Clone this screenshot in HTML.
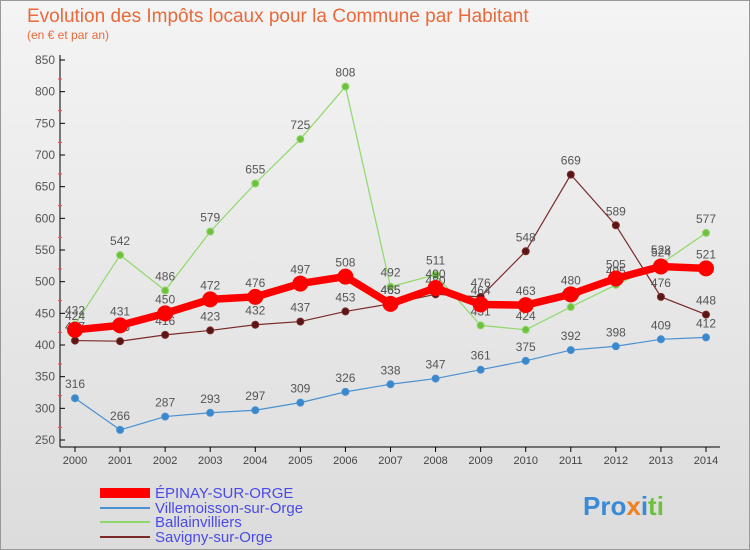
<!DOCTYPE html>
<html><head><meta charset="utf-8"><style>
body{margin:0;width:750px;height:550px;overflow:hidden;font-family:"Liberation Sans",sans-serif}
#root{position:relative;width:748px;height:548px;border:1px solid #999;background:linear-gradient(#f4f4f4,#dcdcdc);}
</style></head><body>
<div id="root">
<svg id="chart" width="750" height="550" style="position:absolute;left:-1px;top:-1px">
<text x="27" y="22" font-size="19" fill="#e8693a">Evolution des Impôts locaux pour la Commune par Habitant</text>
<text x="27" y="39" font-size="12" fill="#e8693a">(en € et par an)</text>
<g id="axes"></g><g id="series"></g>
<g>
<rect x="100" y="488" width="50" height="10" fill="#f00"/>
<text x="155" y="498" font-size="15" fill="#4a4ae8">ÉPINAY-SUR-ORGE</text>
<line x1="100" y1="508" x2="150" y2="508" stroke="#4a90d0" stroke-width="2"/>
<text x="155" y="513" font-size="15" fill="#4a4ae8">Villemoisson-sur-Orge</text>
<line x1="100" y1="522" x2="150" y2="522" stroke="#8fd86a" stroke-width="2"/>
<text x="155" y="527" font-size="15" fill="#4a4ae8">Ballainvilliers</text>
<line x1="100" y1="537" x2="150" y2="537" stroke="#7a2a2a" stroke-width="2"/>
<text x="155" y="542" font-size="15" fill="#4a4ae8">Savigny-sur-Orge</text>
</g>
<text x="583" y="515" font-size="26" font-weight="bold" fill="#3a8ad8">Pro<tspan fill="#f08020">x</tspan><tspan fill="#3a8ad8">i</tspan><tspan fill="#70c040">ti</tspan></text>
</svg>
</div>
<script>
const years=[2000,2001,2002,2003,2004,2005,2006,2007,2008,2009,2010,2011,2012,2013,2014];
const yTicks=[250,300,350,400,450,500,550,600,650,700,750,800,850];
const epinay=[424,431,450,472,476,497,508,465,490,464,463,480,505,524,521];
const villemoisson=[316,266,287,293,297,309,326,338,347,361,375,392,398,409,412];
const ballainvilliers=[432,542,486,579,655,725,808,492,511,431,424,460,495,528,577];
const savigny=[407,406,416,423,432,437,453,465,480,476,548,669,589,476,448];
const NS="http://www.w3.org/2000/svg";
const xS=i=>75+i*(706-75)/(years.length-1);
const yS=v=>440-(v-250)*(380/600);
function mk(t,a,p){const e=document.createElementNS(NS,t);for(const k in a)e.setAttribute(k,a[k]);p.appendChild(e);return e;}
const ax=document.getElementById('axes');
const yl=mk('line',{x1:60,y1:55,x2:60,y2:447,stroke:'#000'},ax);


const xl=mk('line',{x1:60,y1:447,x2:720,y2:447,stroke:'#000'},ax);


yTicks.forEach(v=>{const y=yS(v);
mk('line',{x1:60,y1:y,x2:65,y2:y,stroke:'#000'},ax);
if(y+19<445)mk('line',{x1:58,y1:y+19,x2:62,y2:y+19,stroke:'#f44'},ax);
const t=mk('text',{x:55,y:y+4,'font-size':12,fill:'#555','text-anchor':'end'},ax);t.textContent=v;

});
years.forEach((yr,i)=>{const x=xS(i);
mk('line',{x1:x,y1:447,x2:x,y2:452,stroke:'#000'},ax);
const t=mk('text',{x:x,y:464,'font-size':11,fill:'#444','text-anchor':'middle'},ax);t.textContent=yr;

});
const sg=document.getElementById('series');
function draw(data,name,color,w,r,dot){
const g=mk('g',{},sg);


mk('polyline',{points:data.map((v,i)=>xS(i)+','+yS(v)).join(' '),fill:'none',stroke:color,'stroke-width':w},g);
data.forEach((v,i)=>{const c=mk('circle',{cx:xS(i),cy:yS(v),r:r,fill:dot,stroke:color,'stroke-width':1},g);


const t=mk('text',{x:xS(i),y:yS(v)-10,'font-size':12,fill:'#555','text-anchor':'middle'},g);t.textContent=v;

});}
draw(villemoisson,'villemoisson','#4a90d0',1.2,3.5,'#3a88cc');
draw(ballainvilliers,'ballainvilliers','#8fd86a',1.2,3.5,'#70c040');
draw(savigny,'savigny','#7a2a2a',1.2,3.5,'#5a1515');
draw(epinay,'epinay','#f00',7.5,7.5,'#f00');
</script>
</body></html>
